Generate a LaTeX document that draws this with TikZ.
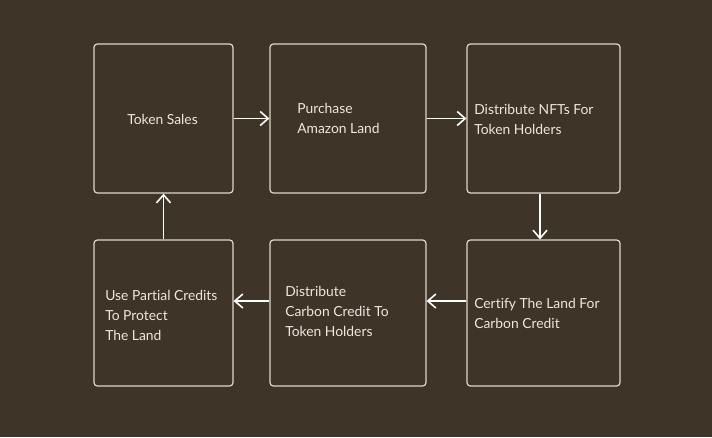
\documentclass[tikz,border=0pt]{standalone}
\usepackage{fontspec}
\setmainfont{Lato}[Ligatures={NoCommon,NoRequired,NoContextual}]
\usetikzlibrary{arrows.meta}
\definecolor{bgbrown}{RGB}{62,52,40}
\definecolor{boxline}{RGB}{222,216,206}
\definecolor{txtcol}{RGB}{236,232,224}
\tikzset{
  stepbox/.style={draw=boxline, line width=0.9pt, rounded corners=2.5pt, fill=bgbrown, inner sep=0pt},
  steptext/.style={anchor=west, inner sep=0pt, align=left, text=txtcol, font=\fontsize{10.4}{15}\selectfont},
  flow/.style={draw=white, line width=1.2pt, -{Straight Barb[length=6pt,width=10.5pt,line width=1.2pt]}}
}
\begin{document}
\begin{tikzpicture}[x=0.75pt,y=0.75pt,yscale=-1]
% background
\fill[bgbrown] (0,0) rectangle (712,437);
\useasboundingbox (0,0) rectangle (712,437);

% Boxes, top row
\node (sales) [stepbox, minimum width=104.25pt, minimum height=111.75pt] at (163.5,118.5) {};
\node (purchase) [stepbox, minimum width=117pt, minimum height=111.75pt] at (348,118.5) {};
\node (nfts) [stepbox, minimum width=114.75pt, minimum height=111.75pt] at (543.5,118.5) {};
% Boxes, bottom row
\node (protect) [stepbox, minimum width=104.25pt, minimum height=109.5pt] at (163.5,313) {};
\node (carbon) [stepbox, minimum width=117pt, minimum height=109.5pt] at (348,313) {};
\node (certify) [stepbox, minimum width=114.75pt, minimum height=109.5pt] at (543.5,313) {};

% Text Node
\node (salestxt) [steptext] at (127,119) {Token Sales};
% Text Node
\node (purchasetxt) [steptext] at (297,118) {Purchase\\Amazon Land};
% Text Node
\node (nftstxt) [steptext] at (474,119) {Distribute NFTs For\\Token Holders};
% Text Node
\node (certifytxt) [steptext] at (474,313) {Certify The Land For\\Carbon Credit};
% Text Node
\node (carbontxt) [steptext] at (285,311) {Distribute\\Carbon Credit To\\Token Holders};
% Text Node
\node (protecttxt) [steptext] at (105,315) {Use Partial Credits\\To Protect\\The Land};

% Connectors
\draw[flow] (sales) -- (purchase);
\draw[flow] (purchase) -- (nfts);
\draw[flow] ([xshift=-2.6pt]nfts.south) -- ([xshift=-2.6pt]certify.north);
\draw[flow] ([yshift=-9pt]certify.west) -- ([yshift=-9pt]carbon.east);
\draw[flow] ([yshift=-9pt]carbon.west) -- ([yshift=-9pt]protect.east);
\draw[flow] (protect) -- (sales);
\end{tikzpicture}
\end{document}
